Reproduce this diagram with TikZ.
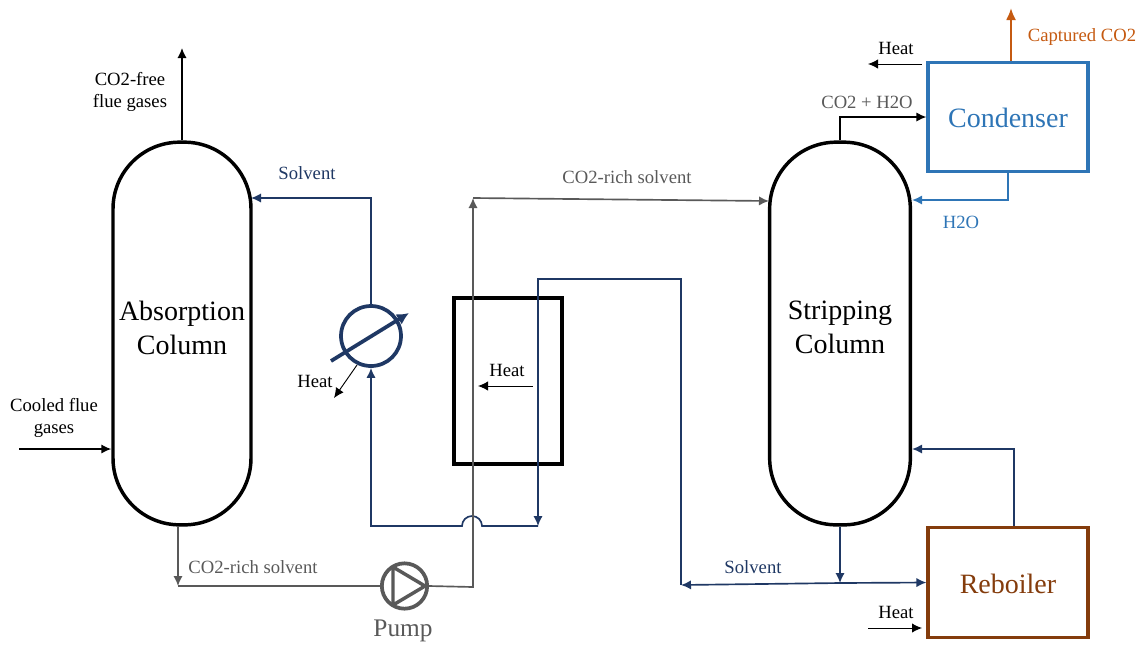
\documentclass[tikz,border=0pt]{standalone}
\usepackage{xcolor}
\usepackage{fontspec}
\usetikzlibrary{arrows.meta}
\setmainfont{Liberation Serif}
\definecolor{solventblue}{HTML}{1F3864}
\definecolor{richgray}{HTML}{595959}
\definecolor{condblue}{HTML}{2E75B6}
\definecolor{rebbrown}{HTML}{843C0C}
\definecolor{capturedorange}{HTML}{C55A11}
\tikzset{
  column/.style={draw,line width=2.6pt,minimum width=103.5pt,minimum height=287pt,rounded corners=50pt,inner sep=0pt},
  columntext/.style={align=center,inner sep=0pt,font=\fontsize{21}{25.5}\selectfont},
  unitbox/.style={draw,line width=2.4pt,inner sep=0pt,text height=16pt,text depth=0pt,font=\fontsize{21}{25}\selectfont},
  label/.style={font=\fontsize{14}{17}\selectfont,align=center,inner sep=0pt},
  stream/.style={line width=1.25pt,-{Latex[length=7.5pt,width=7pt]}},
  heatstream/.style={line width=0.7pt,-{Latex[length=7.5pt,width=7pt]}}
}
\begin{document}
\begin{tikzpicture}[x=0.75pt,y=-0.75pt]
  \useasboundingbox (0,0) rectangle (1141,644);
  % vessels
  \node[column] (absorber) at (182,333.5) {};
  \node[column,minimum width=105.5pt] (stripper) at (840,333.5) {};
  \node[unitbox,condblue,minimum width=120pt,minimum height=82pt] (condenser) at (1008,117) {Condenser};
  \node[unitbox,rebbrown,minimum width=120pt,minimum height=83pt] (reboiler) at (1008,582.5) {Reboiler};
  \node[draw,line width=2.8pt,minimum width=81pt,minimum height=124.5pt,inner sep=0pt] (exchanger) at (508,381) {};
  \node[draw=solventblue,circle,line width=2.8pt,minimum size=45pt,inner sep=0pt] (cooler) at (371,336) {};
  \node[draw=richgray,circle,line width=2.8pt,minimum size=34pt,inner sep=0pt] (pump) at (404.5,586) {};
  \node[columntext] (absorbertext) at (182,328) {Absorption\\Column};
  \node[columntext] (strippertext) at (840,327) {Stripping\\Column};
  % pump triangle and cooler arrow
  \draw[richgray,line width=2.6pt,line join=round] (393,567) -- (393,605) -- (425,586) -- cycle;
  \draw[solventblue,line width=2.8pt,-{Latex[length=9pt,width=9pt]}] (331,361) -- (409,313);
  % junction points
  \coordinate (freetop) at (182,48);
  \coordinate (fluein) at (19,449);
  \coordinate (solventin) at (251,198);
  \coordinate (coolertop) at (371,198);
  \coordinate (bumpright) at (482,526);
  \coordinate (coolerbot) at (371,526);
  \coordinate (hotin) at (538,526);
  \coordinate (hottop) at (538,279);
  \coordinate (hotright) at (681,279);
  \coordinate (hotbot) at (681,585);
  \coordinate (split) at (840,583);
  \coordinate (richbot) at (178,586);
  \coordinate (richcorner) at (473,587);
  \coordinate (richtop) at (473,198);
  \coordinate (richin) at (769,201);
  \coordinate (vapcorner) at (840,117);
  \coordinate (watercorner) at (1008,200);
  \coordinate (capturedtop) at (1011,8);
  \coordinate (steamcorner) at (1014,449);
  % streams
  \draw[stream] (absorber.north) -- (freetop);
  \draw[stream] (fluein) -- (fluein -| absorber.west);
  \draw[stream,solventblue] (cooler.north) -- (coolertop) -- (solventin);
  \draw[stream,solventblue] (hotbot) -- (hotright) -- (hottop) -- (hotin);
  \draw[stream,solventblue] (hotin) -- (bumpright) arc[start angle=0,end angle=-180,radius=10] -- (coolerbot) -- (cooler.south);
  \draw[stream,richgray] (absorber.south -| richbot) -- (richbot);
  \draw[line width=1.25pt,richgray] (richbot) -- (pump.west);
  \draw[stream,richgray] (pump.east) -- (richcorner) -- (richtop);
  \draw[stream,richgray] (richtop) -- (richin);
  \draw[stream,solventblue] (stripper.south) -- (split);
  \draw[stream,solventblue] (split) -- (hotbot);
  \draw[stream,solventblue] (split) -- (reboiler.west);
  \draw[stream,solventblue] (reboiler.north -| steamcorner) -- (steamcorner) -- (steamcorner -| stripper.east);
  \draw[stream] (stripper.north) -- (vapcorner) -- (condenser.west);
  \draw[stream,condblue] (condenser.south) -- (watercorner) -- (watercorner -| stripper.east);
  \draw[line width=1.5pt,capturedorange,-{Latex[length=9pt,width=7.5pt]}] (condenser.north -| capturedtop) -- (capturedtop);
  % heat arrows
  \draw[heatstream] (922,64) -- (868,64);
  \draw[heatstream] (868,628) -- (922,628);
  \draw[heatstream] (533,386) -- (478,386);
  \draw[heatstream] (357,365) -- (334,398);
  % labels
  \node[label] (freelabel) at (130,92) {CO2-free\\flue gases};
  \node[label] (fluelabel) at (54,418) {Cooled flue\\gases};
  \node[label,text=solventblue] (solventtop) at (307,173) {Solvent};
  \node[label] (heatcooler) at (315,381) {Heat};
  \node[label] (heatexch) at (507,370) {Heat};
  \node[label,text=richgray] (richleft) at (253,567) {CO2-rich solvent};
  \node[label,text=richgray] (richright) at (627,177) {CO2-rich solvent};
  \node[label,text=richgray,font=\fontsize{19}{22}\selectfont] (pumplabel) at (403,631) {Pump};
  \node[label,text=solventblue] (solventbot) at (753,567) {Solvent};
  \node[label,text=richgray] (vaplabel) at (867,102) {CO2 + H2O};
  \node[label,text=condblue] (waterlabel) at (961,222) {H2O};
  \node[label,text=capturedorange] (capturedlabel) at (1082,37) {Captured CO2};
  \node[label] (heatcond) at (896,48) {Heat};
  \node[label] (heatreb) at (896,612) {Heat};
\end{tikzpicture}
\end{document}
